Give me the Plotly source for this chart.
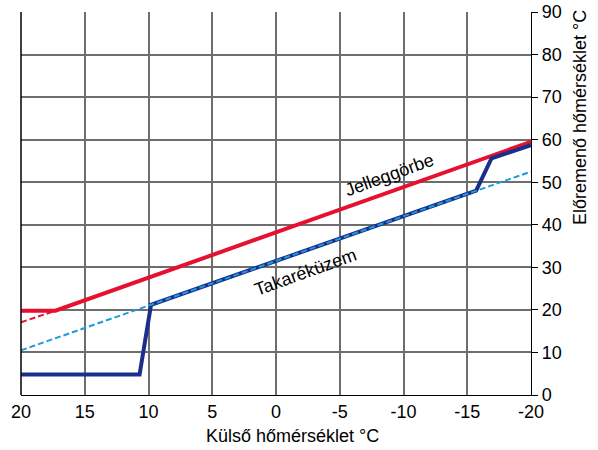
import plotly.graph_objects as go

# Data
red_x = [20, 17.3, -20]
red_y = [19.8, 19.8, 59.5]
red_ext_x = [20, 17.3]
red_ext_y = [17.1, 19.8]
eco_x = [20, -20]
eco_y = [10.5, 52.5]
navy_x = [20, 10.7, 9.8, -15.7, -16.9, -20]
navy_y = [4.8, 4.8, 21.2, 48.0, 55.6, 58.7]
x_ticks = [20, 15, 10, 5, 0, -5, -10, -15, -20]
y_ticks = [0, 10, 20, 30, 40, 50, 60, 70, 80, 90]

RED = "#e5112e"
NAVY = "#1c2e8c"
LBLUE = "#1b9bdb"
FONT = "Liberation Sans, Arial, sans-serif"

W, H = 598, 450
L, T = 21, 12
pw, ph = 510, 383
R = W - L - pw
B = H - T - ph

def px_x(px):  # reference pixel -> paper x
    return (px - L) / pw

def px_y(py):  # reference pixel -> paper y
    return (T + ph - py) / ph

fig = go.Figure()
fig.add_trace(go.Scatter(x=red_ext_x, y=red_ext_y, mode="lines",
                         line=dict(color=RED, width=2, dash="6px,3px")))
fig.add_trace(go.Scatter(x=red_x, y=red_y, mode="lines",
                         line=dict(color=RED, width=4)))
fig.add_trace(go.Scatter(x=navy_x, y=navy_y, mode="lines",
                         line=dict(color=NAVY, width=4)))
fig.add_trace(go.Scatter(x=eco_x, y=eco_y, mode="lines",
                         line=dict(color=LBLUE, width=2, dash="6px,3px")))

fig.update_layout(
    width=W, height=H,
    margin=dict(l=L, r=R, t=T, b=B, autoexpand=False),
    paper_bgcolor="white", plot_bgcolor="white",
    showlegend=False,
    font=dict(family=FONT, size=18, color="black"),
    xaxis=dict(range=[20, -20], tickvals=x_ticks, ticktext=[str(v) for v in x_ticks],
               showgrid=True, gridcolor="#6e6e6e", gridwidth=1.5,
               showline=True, linecolor="black", linewidth=1.2, mirror=False,
               zeroline=False, ticks="", tickfont=dict(size=18), automargin=False,
               ticklabeloverflow="allow"),
    yaxis=dict(range=[0, 90], tickvals=y_ticks, side="right",
               showgrid=True, gridcolor="#6e6e6e", gridwidth=1.5,
               showline=True, linecolor="black", linewidth=1.2,
               zeroline=False, ticks="outside", ticklen=6, tickcolor="black",
               tickfont=dict(size=18), automargin=False, ticklabeloverflow="allow"),
    shapes=[dict(type="line", xref="paper", yref="paper", x0=0, x1=0, y0=0, y1=1,
                 line=dict(color="black", width=1.5))],
    annotations=[
        dict(text="Jelleggörbe", x=-8.9, y=51.6, xref="x", yref="y", showarrow=False,
             textangle=-20, font=dict(size=18), xanchor="center", yanchor="middle"),
        dict(text="Takaréküzem", x=-2.35, y=28.8, xref="x", yref="y", showarrow=False,
             textangle=-20, font=dict(size=18), xanchor="center", yanchor="middle"),
        dict(text="Külső hőmérséklet °C", x=px_x(292), y=px_y(436),
             xref="paper", yref="paper", showarrow=False, font=dict(size=18),
             xanchor="center", yanchor="middle"),
        dict(text="Előremenő hőmérséklet °C", x=px_x(580), y=px_y(118),
             xref="paper", yref="paper", showarrow=False, textangle=-90,
             font=dict(size=18), xanchor="center", yanchor="middle"),
    ],
)

fig.write_html("out.html", config={"displayModeBar": False},
               post_script="document.body.style.margin='0';")
